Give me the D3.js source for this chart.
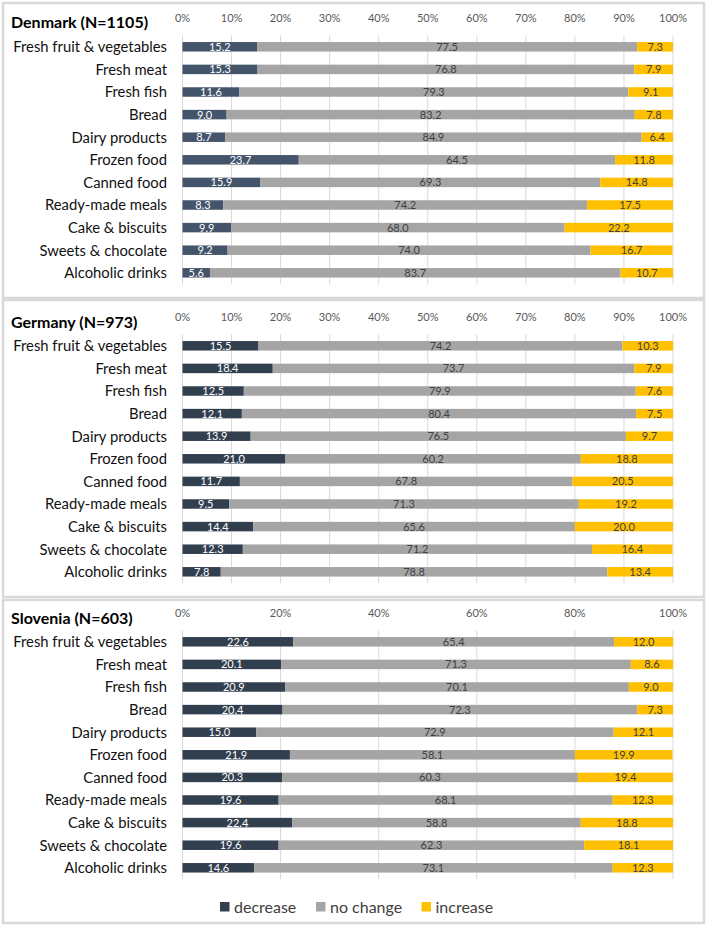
<!DOCTYPE html>
<html>
<head>
<meta charset="utf-8">
<script src="https://cdn.jsdelivr.net/npm/d3@7/dist/d3.min.js"></script>
<style>
  html, body { margin: 0; padding: 0; background: #ffffff; }
  svg { display: block; font-family: Lato, "Open Sans", sans-serif; }
</style>
</head>
<body>
<svg id="chart" width="708" height="927"></svg>
<script>
const categories = ["Fresh fruit & vegetables","Fresh meat","Fresh fish","Bread","Dairy products","Frozen food","Canned food","Ready-made meals","Cake & biscuits","Sweets & chocolate","Alcoholic drinks"];
const seriesNames = ["decrease","no change","increase"];

const denmarkDecrease = [15.2,15.3,11.6,9.0,8.7,23.7,15.9,8.3,9.9,9.2,5.6];
const denmarkNoChange = [77.5,76.8,79.3,83.2,84.9,64.5,69.3,74.2,68.0,74.0,83.7];
const denmarkIncrease = [7.3,7.9,9.1,7.8,6.4,11.8,14.8,17.5,22.2,16.7,10.7];

const germanyDecrease = [15.5,18.4,12.5,12.1,13.9,21.0,11.7,9.5,14.4,12.3,7.8];
const germanyNoChange = [74.2,73.7,79.9,80.4,76.5,60.2,67.8,71.3,65.6,71.2,78.8];
const germanyIncrease = [10.3,7.9,7.6,7.5,9.7,18.8,20.5,19.2,20.0,16.4,13.4];

const sloveniaDecrease = [22.6,20.1,20.9,20.4,15.0,21.9,20.3,19.6,22.4,19.6,14.6];
const sloveniaNoChange = [65.4,71.3,70.1,72.3,72.9,58.1,60.3,68.1,58.8,62.3,73.1];
const sloveniaIncrease = [12.0,8.6,9.0,7.3,12.1,19.9,19.4,12.3,18.8,18.1,12.3];

const ticksFine = [0,10,20,30,40,50,60,70,80,90,100];
const ticksCoarse = [0,20,40,60,80,100];

const panels = [
  {title: "Denmark (N=1105)", dec: denmarkDecrease, nc: denmarkNoChange, inc: denmarkIncrease, ticks: ticksFine,
   box: [3, 3, 701, 295], titleY: 27.5, tickY: 22, bandTop: 35.5, decColor: "#44546a"},
  {title: "Germany (N=973)", dec: germanyDecrease, nc: germanyNoChange, inc: germanyIncrease, ticks: ticksFine,
   box: [3, 300, 701, 297], titleY: 327.5, tickY: 321, bandTop: 334.5, decColor: "#323f4f"},
  {title: "Slovenia (N=603)", dec: sloveniaDecrease, nc: sloveniaNoChange, inc: sloveniaIncrease, ticks: ticksCoarse,
   box: [3, 600, 701, 323], titleY: 623.5, tickY: 617, bandTop: 630.5, decColor: "#323f4f"}
];

const colors = {"no change": "#a5a5a5", "increase": "#ffc000"};

const svg = d3.select("#chart");
svg.append("rect").attr("x",0).attr("y",0).attr("width",708).attr("height",927).attr("fill","#ffffff");

const x = d3.scaleLinear().domain([0, 100]).range([182.5, 673]);

panels.forEach(p => {
  const g = svg.append("g");
  g.append("rect")
    .attr("x", p.box[0]).attr("y", p.box[1]).attr("width", p.box[2]).attr("height", p.box[3])
    .attr("fill", "#ffffff").attr("stroke", "#d9d9d9").attr("stroke-width", 2.5);

  const y = d3.scaleBand().domain(categories)
    .range([p.bandTop, p.bandTop + 22.6 * categories.length])
    .paddingInner(0.58).paddingOuter(0.29);

  g.selectAll("line.grid").data(p.ticks).enter().append("line")
    .attr("x1", d => x(d)).attr("x2", d => x(d))
    .attr("y1", p.bandTop).attr("y2", p.bandTop + 22.6 * categories.length)
    .attr("stroke", "#d9d9d9").attr("stroke-width", 1);

  g.selectAll("text.tick").data(p.ticks).enter().append("text")
    .attr("x", d => x(d)).attr("y", p.tickY)
    .attr("text-anchor", "middle")
    .attr("font-size", 11).attr("fill", "#595959")
    .text(d => d + "%");

  g.append("text").attr("x", 11).attr("y", p.titleY)
    .attr("font-size", 16).attr("font-weight", "bold").attr("fill", "#000000")
    .text(p.title);

  g.selectAll("text.cat").data(categories).enter().append("text")
    .attr("x", 167).attr("y", d => y(d) + y.bandwidth() / 2)
    .attr("dy", "0.36em")
    .attr("text-anchor", "end")
    .attr("font-size", 14.8).attr("fill", "#111111")
    .text(d => d);

  const rows = categories.map((c, i) => ({cat: c, "decrease": p.dec[i], "no change": p.nc[i], "increase": p.inc[i]}));
  const stacked = d3.stack().keys(seriesNames)(rows);

  stacked.forEach(layer => {
    const key = layer.key;
    const fill = key === "decrease" ? p.decColor : colors[key];
    const lg = g.append("g");
    lg.selectAll("rect").data(layer).enter().append("rect")
      .attr("x", d => x(d[0]))
      .attr("y", d => y(d.data.cat))
      .attr("width", d => x(Math.min(d[1], 100)) - x(d[0]))
      .attr("height", y.bandwidth())
      .attr("fill", fill);
    lg.selectAll("text").data(layer).enter().append("text")
      .attr("x", d => (x(d[0]) + x(Math.min(d[1], 100))) / 2)
      .attr("y", d => y(d.data.cat) + y.bandwidth() / 2)
      .attr("dy", "0.36em")
      .attr("text-anchor", "middle")
      .attr("font-size", 11)
      .attr("fill", key === "decrease" ? "#ffffff" : "#404040")
      .text(d => d.data[key].toFixed(1));
  });
});

const legendItems = [
  {name: "decrease", color: "#323f4f", x: 220},
  {name: "no change", color: "#a5a5a5", x: 316},
  {name: "increase", color: "#ffc000", x: 421.5}
];
const lg = svg.append("g");
legendItems.forEach(it => {
  lg.append("rect").attr("x", it.x).attr("y", 902).attr("width", 9.5).attr("height", 9.5).attr("fill", it.color);
  lg.append("text").attr("x", it.x + 14).attr("y", 907).attr("dy", "0.36em")
    .attr("font-size", 16).attr("fill", "#404040").text(it.name);
});
</script>
</body>
</html>
